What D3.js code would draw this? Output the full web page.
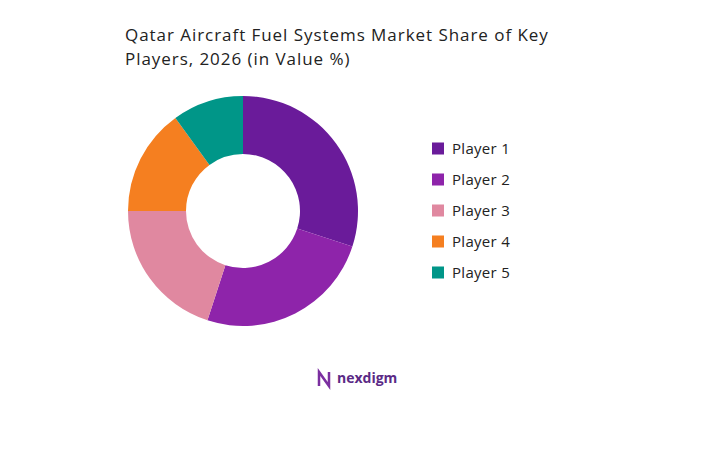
<!DOCTYPE html>
<html><head><meta charset="utf-8">
<script src="https://cdn.jsdelivr.net/npm/d3@7"></script>
<style>body{margin:0;background:#fff;font-family:"Open Sans",sans-serif}</style>
</head><body><svg id="c" width="702" height="466"></svg>
<script>
const categories = ["Player 1","Player 2","Player 3","Player 4","Player 5"];
const values = [30,25,20,15,10];
const colors = ["#6a1b9a","#8e24aa","#e088a0","#f57f20","#009688"];
const titleLines = ["Qatar Aircraft Fuel Systems Market Share of Key","Players, 2026 (in Value %)"];

const svg = d3.select("#c");
svg.append("g").selectAll("text").data(titleLines).join("text")
  .attr("x",125).attr("y",(d,i)=>41+i*24).attr("font-size",17).attr("letter-spacing",0.95).attr("fill","#222").text(d=>d);

const pie = d3.pie().sort(null).value(d=>d);
const arc = d3.arc().innerRadius(57).outerRadius(115);
const g = svg.append("g").attr("transform","translate(243,211)");
g.selectAll("path").data(pie(values)).join("path")
  .attr("d",arc).attr("fill",(d,i)=>colors[i]);

const y = d3.scaleBand().domain(categories).range([133,288]);
const lg = svg.append("g");
lg.selectAll("rect").data(categories).join("rect")
  .attr("x",432).attr("y",d=>y(d)+y.bandwidth()/2-6).attr("width",12).attr("height",12)
  .attr("fill",(d,i)=>colors[i]);
lg.selectAll("text").data(categories).join("text")
  .attr("x",452).attr("y",d=>y(d)+y.bandwidth()/2+5).attr("font-size",15).attr("letter-spacing",0.3).attr("fill","#222").text(d=>d);

const logo = svg.append("g").attr("transform","translate(317,370)");
logo.append("path").attr("d","M2,16 L2,2 L12,16 L12,2").attr("fill","none").attr("stroke","#7b2fa0").attr("stroke-width",2.5);
logo.append("text").attr("x",20).attr("y",13).attr("font-size",14).attr("font-weight","bold").attr("fill","#5b2a86").text("nexdigm");
</script></body></html>
